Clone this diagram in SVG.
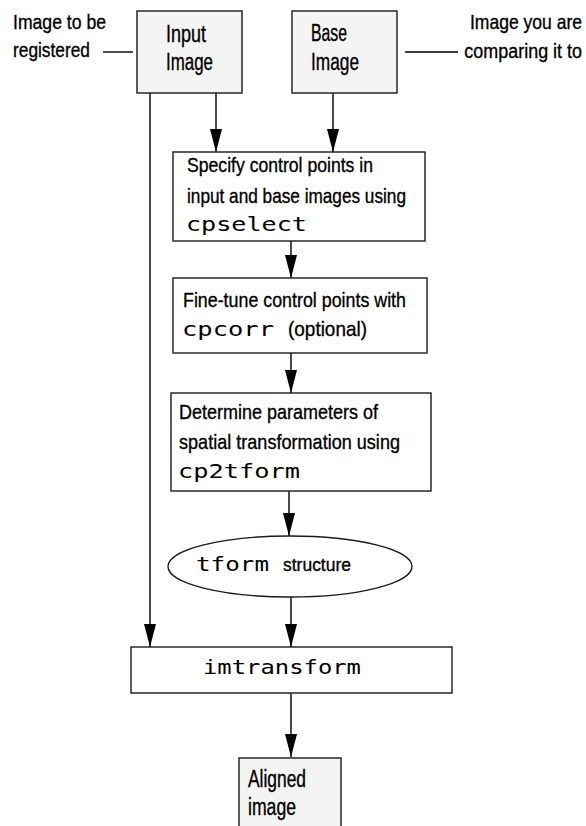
<svg xmlns="http://www.w3.org/2000/svg" width="586" height="826" viewBox="0 0 586 826">
<style>
.box{fill:#ffffff;stroke:#1a1a1a;stroke-width:1.4}
.gbox{fill:#f4f4f4;stroke:#1a1a1a;stroke-width:1.4}
.ln{stroke:#000;stroke-width:1.4;fill:none}
.arr{stroke:#000;stroke-width:1.4;fill:none;marker-end:url(#ah)}
.t{font-family:"Liberation Sans",Arial,sans-serif;font-size:21px;fill:#000;stroke:#000;stroke-width:0.35}
.tb{font-family:"Liberation Sans",Arial,sans-serif;font-size:23px;fill:#000;stroke:#000;stroke-width:0.35}
.ts{font-family:"Liberation Sans",Arial,sans-serif;font-size:19px;fill:#000;stroke:#000;stroke-width:0.35}
.m{font-family:"DejaVu Sans Mono","Liberation Mono",monospace;font-size:19px;fill:#000}
</style>
<defs>
<marker id="ah" markerUnits="userSpaceOnUse" markerWidth="23" markerHeight="12" viewBox="0 0 23 12" refX="23" refY="6" orient="auto">
<path d="M0,0 L23,6 L0,12 z" fill="#000"/>
</marker>
</defs>
<rect width="586" height="826" fill="#ffffff"/>
<g id="connectors">
<line class="ln" x1="103" y1="52" x2="133" y2="52"/>
<line class="ln" x1="405" y1="52" x2="458" y2="52"/>
<line class="arr" x1="216" y1="93" x2="216" y2="152"/>
<line class="arr" x1="333" y1="93" x2="333" y2="152"/>
<line class="arr" x1="150" y1="93" x2="150" y2="647"/>
<line class="arr" x1="291" y1="241" x2="291" y2="278"/>
<line class="arr" x1="291" y1="353" x2="291" y2="393"/>
<line class="arr" x1="289" y1="491" x2="289" y2="536"/>
<line class="arr" x1="291" y1="597" x2="291" y2="647"/>
<line class="arr" x1="291" y1="693" x2="291" y2="757"/>
</g>
<g id="label-input">
<text class="t" x="13" y="29" textLength="93" lengthAdjust="spacingAndGlyphs">Image to be</text>
<text class="t" x="13" y="57" textLength="77" lengthAdjust="spacingAndGlyphs">registered</text>
</g>
<g id="label-base">
<text class="t" transform="translate(582,29) scale(0.835,1)" x="0" y="0" text-anchor="end">Image you are</text>
<text class="t" transform="translate(582,58) scale(0.855,1)" x="0" y="0" text-anchor="end">comparing it to</text>
</g>
<g id="input-image">
<rect class="gbox" x="137" y="11" width="105" height="82"/>
<text class="tb" x="166" y="42" textLength="40" lengthAdjust="spacingAndGlyphs">Input</text>
<text class="tb" x="166" y="70" textLength="47" lengthAdjust="spacingAndGlyphs">Image</text>
</g>
<g id="base-image">
<rect class="gbox" x="292" y="11" width="105" height="82"/>
<text class="tb" x="311" y="41" textLength="36" lengthAdjust="spacingAndGlyphs">Base</text>
<text class="tb" x="311" y="70" textLength="48" lengthAdjust="spacingAndGlyphs">Image</text>
</g>
<g id="cpselect">
<rect class="box" x="173" y="152" width="252" height="89"/>
<text class="t" x="187" y="172" textLength="186" lengthAdjust="spacingAndGlyphs">Specify control points in</text>
<text class="t" x="187" y="203" textLength="219" lengthAdjust="spacingAndGlyphs">input and base images using</text>
<text class="m" x="186" y="231" textLength="121" lengthAdjust="spacingAndGlyphs">cpselect</text>
</g>
<g id="cpcorr">
<rect class="box" x="173" y="278" width="254" height="75"/>
<text class="t" x="183" y="307" textLength="223" lengthAdjust="spacingAndGlyphs">Fine-tune control points with</text>
<text class="m" x="182" y="336" textLength="92" lengthAdjust="spacingAndGlyphs">cpcorr</text>
<text class="t" x="288" y="336" font-size="20" textLength="79" lengthAdjust="spacingAndGlyphs">(optional)</text>
</g>
<g id="cp2tform">
<rect class="box" x="171" y="393" width="260" height="98"/>
<text class="t" x="179" y="419" textLength="199" lengthAdjust="spacingAndGlyphs">Determine parameters of</text>
<text class="t" x="179" y="449" textLength="221" lengthAdjust="spacingAndGlyphs">spatial transformation using</text>
<text class="m" x="178" y="478" textLength="122" lengthAdjust="spacingAndGlyphs">cp2tform</text>
</g>
<g id="tform">
<ellipse class="box" cx="290" cy="566.5" rx="122" ry="30.5"/>
<text class="m" x="196" y="571" textLength="73" lengthAdjust="spacingAndGlyphs">tform</text>
<text class="ts" x="283" y="571" textLength="68" lengthAdjust="spacingAndGlyphs">structure</text>
</g>
<g id="imtransform">
<rect class="box" x="131" y="647" width="321" height="46"/>
<text class="m" x="203" y="674" textLength="158" lengthAdjust="spacingAndGlyphs">imtransform</text>
</g>
<g id="aligned-image">
<rect class="gbox" x="239" y="758" width="102" height="90"/>
<text class="tb" x="248" y="787" textLength="58" lengthAdjust="spacingAndGlyphs">Aligned</text>
<text class="tb" x="248" y="815" textLength="48" lengthAdjust="spacingAndGlyphs">image</text>
</g>
</svg>
